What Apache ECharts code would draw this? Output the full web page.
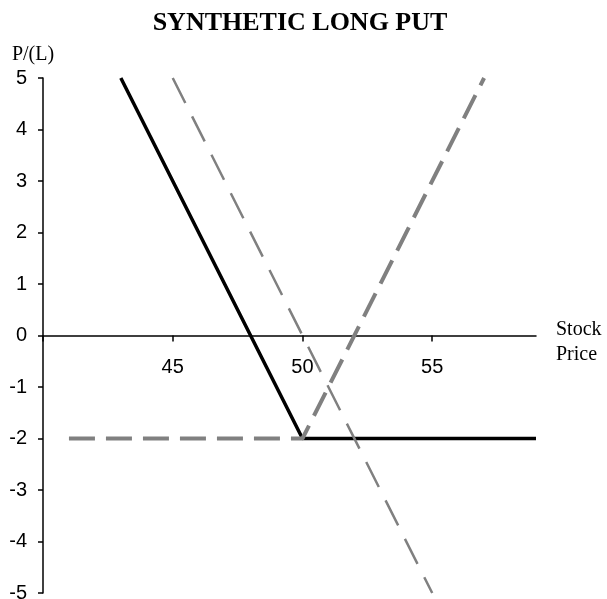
<!DOCTYPE html>
<html>
<head>
<meta charset="utf-8">
<script src="https://cdn.jsdelivr.net/npm/echarts@6/dist/echarts.min.js"></script>
<style>
html,body{margin:0;padding:0;background:#fff;}
#chart{width:607px;height:599px;}
</style>
</head>
<body>
<div id="chart"></div>
<script>
const titleText = 'SYNTHETIC LONG PUT';
const yAxisName = 'P/(L)';
const xAxisName = 'Stock\nPrice';

const putX = [43, 50, 59];
const putY = [5, -2, -2];
const callX = [41, 50, 57];
const callY = [-2, -2, 5];
const stockX = [45, 55];
const stockY = [5, -5];

const xTicks = [40, 45, 50, 55];
const xTickLabels = [45, 50, 55];

function pairs(xs, ys) { return xs.map((x, i) => [x, ys[i]]); }

const chart = echarts.init(document.getElementById('chart'), null, {renderer: 'canvas'});
chart.setOption({
  animation: false,
  backgroundColor: '#ffffff',
  grid: {left: 43, right: 71, top: 78, bottom: 6, containLabel: false, outerBoundsMode: 'none'},
  xAxis: {
    type: 'value', min: 40, max: 59, interval: 5, offset: 0,
    axisLine: {onZero: false, lineStyle: {color: '#000', width: 1.5}},
    axisTick: {show: true, length: 6, lineStyle: {color: '#000', width: 1.5}, customValues: xTicks},
    axisLabel: {show: true, margin: 22, color: '#000', fontSize: 20, fontFamily: 'Liberation Sans, Arial, sans-serif',
      formatter: v => (xTickLabels.indexOf(v) >= 0 ? String(v) : '')},
    splitLine: {show: false}
  },
  yAxis: {
    type: 'value', min: -5, max: 5, interval: 1,
    axisLine: {show: true, onZero: false, lineStyle: {color: '#000', width: 1.5}},
    axisTick: {show: true, length: 5, lineStyle: {color: '#000', width: 1.5}},
    axisLabel: {margin: 16, color: '#000', fontSize: 20, fontFamily: 'Liberation Sans, Arial, sans-serif'},
    splitLine: {show: false}
  },
  graphic: [
    {type: 'text', x: 300, y: 23, style: {text: titleText, fill: '#000', font: 'bold 26px "Liberation Serif", "Times New Roman", serif', textAlign: 'center', textVerticalAlign: 'middle'}},
    {type: 'text', x: 33, y: 55, style: {text: yAxisName, fill: '#000', font: '20px "Liberation Serif", "Times New Roman", serif', textAlign: 'center', textVerticalAlign: 'middle'}},
    {type: 'text', x: 556, y: 317, style: {text: xAxisName, fill: '#000', font: '20px "Liberation Serif", "Times New Roman", serif', textAlign: 'left', textVerticalAlign: 'top', lineHeight: 25}}
  ],
  series: [
    {name: 'Synthetic Long Put', type: 'line', data: pairs(putX, putY), symbol: 'none', z: 2,
     lineStyle: {color: '#000', width: 3.5}},
    {name: 'Long Call', type: 'line', data: pairs(callX, callY), symbol: 'none', z: 3,
     lineStyle: {color: '#808080', width: 4, type: [26, 11]}},
    {name: 'Short Stock', type: 'line', data: pairs(stockX, stockY), symbol: 'none', z: 4,
     lineStyle: {color: '#808080', width: 2.5, type: [28, 15]}}
  ]
});
// move the x axis (line, ticks, labels) to y = 0 using the library's own scale
const yZero = chart.convertToPixel({yAxisIndex: 0}, 0);
const yMin = chart.convertToPixel({yAxisIndex: 0}, -5);
chart.setOption({xAxis: {offset: yZero - yMin}});
</script>
</body>
</html>
